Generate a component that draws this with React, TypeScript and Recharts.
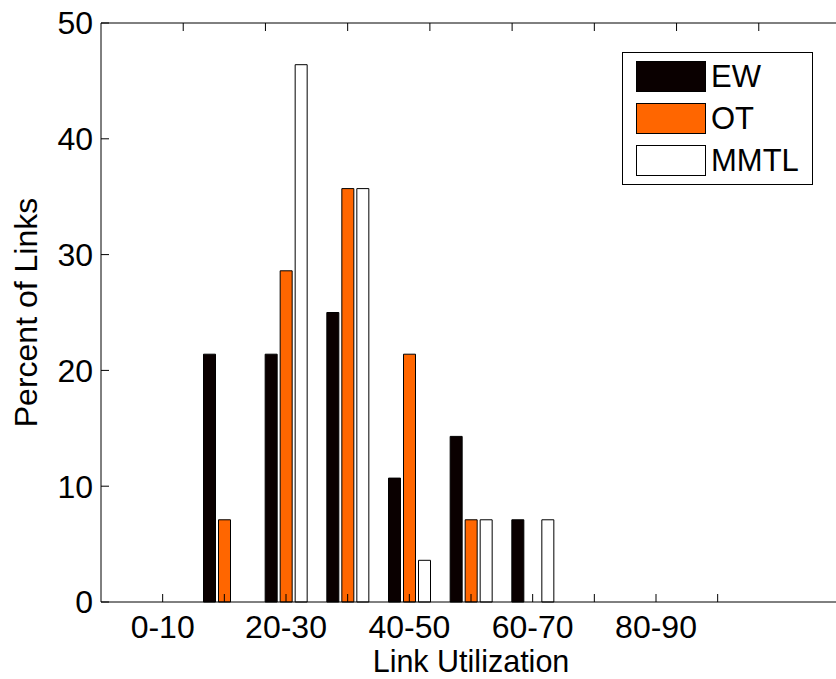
import React from 'react'
import { Bar, BarChart, XAxis, YAxis, Legend, Label } from 'recharts'

// link utilization bins (bar positions 1..10)
const categories = ['0-10', '10-20', '20-30', '30-40', '40-50', '50-60', '60-70', '70-80', '80-90', '90-100']
const ewValues = [0, 21.4, 21.4, 25, 10.7, 14.3, 7.1, 0, 0, 0]
const otValues = [0, 7.1, 28.6, 35.7, 21.4, 7.1, 0, 0, 0, 0]
const mmtlValues = [0, 0, 46.4, 35.7, 3.6, 7.1, 7.1, 0, 0, 0]

// only every other bin is labelled on the axis
const tickLabels = ['0-10', '', '20-30', '', '40-50', '', '60-70', '', '80-90', '']
const xTicks = [1, 2, 3, 4, 5, 6, 7, 8, 9, 10]
const yTicks = [0, 10, 20, 30, 40, 50]

const series = [
    { key: 'EW', fill: '#0a0000' },
    { key: 'OT', fill: '#ff6600' },
    { key: 'MMTL', fill: '#ffffff' },
]

const data = categories.map((c, i) => ({
    pos: i + 1,
    bin: c,
    EW: ewValues[i],
    OT: otValues[i],
    MMTL: mmtlValues[i],
}))

const FONT = '"Liberation Sans", Arial, Helvetica, sans-serif'

function LegendBox () {
    return (
        <div style={{
            border: '1px solid #000',
            background: '#fff',
            width: 191,
            height: 133,
            boxSizing: 'border-box',
            padding: '8px 0 0 13px',
            fontFamily: FONT,
        }}>
            {series.map((s, i) => (
                <div key={s.key} style={{ display: 'flex', alignItems: 'center', height: 31, marginTop: i === 0 ? 0 : 11 }}>
                    <div style={{ width: 70, height: 31, boxSizing: 'border-box', border: '1px solid #000', background: s.fill }} />
                    <span style={{ marginLeft: 5, fontSize: 31, color: '#000', lineHeight: '31px' }}>{s.key}</span>
                </div>
            ))}
        </div>
    )
}

function YLabel (props: any) {
    const vb = props.viewBox
    const cx = vb.x + 37
    const cy = vb.y + vb.height / 2
    return (
        <text x={cx} y={cy} transform={`rotate(-90 ${cx} ${cy})`} textAnchor='middle' fontSize={32} fill='#000'>
            Percent of Links
        </text>
    )
}

export default function App () {
    const tickStyle = { fontSize: 32, fill: '#000' }
    return (
        <div style={{ position: 'absolute', left: 0, top: 0, width: 836, height: 679, overflow: 'hidden', background: '#fff', fontFamily: FONT }}>
            <BarChart
                width={842}
                height={679}
                data={data}
                margin={{ top: 0, right: 0, bottom: 0, left: 0 }}
                barSize={12}
                barGap={3}>
                <XAxis
                    dataKey='pos'
                    type='number'
                    domain={[0, 12]}
                    ticks={xTicks}
                    interval={0}
                    height={77}
                    tickSize={-8}
                    tickMargin={21}
                    tick={tickStyle}
                    tickFormatter={(v: number) => tickLabels[v - 1] ?? ''}
                    axisLine={{ stroke: '#000' }}
                    tickLine={{ stroke: '#000' }}>
                    <Label value='Link Utilization' position='insideBottom' offset={7} fontSize={30.5} fill='#000' />
                </XAxis>
                <XAxis
                    xAxisId='top'
                    orientation='top'
                    type='number'
                    domain={[0, 12]}
                    ticks={xTicks}
                    interval={0}
                    height={23}
                    tickSize={-8}
                    tickFormatter={() => ''}
                    axisLine={{ stroke: '#000' }}
                    tickLine={{ stroke: '#000' }}
                />
                <YAxis
                    domain={[0, 50]}
                    ticks={yTicks}
                    interval={0}
                    width={101}
                    tickSize={-8}
                    tickMargin={16}
                    tick={tickStyle}
                    axisLine={{ stroke: '#000' }}
                    tickLine={{ stroke: '#000' }}>
                    <Label content={YLabel} />
                </YAxis>
                <YAxis
                    yAxisId='right'
                    orientation='right'
                    domain={[0, 50]}
                    ticks={yTicks}
                    interval={0}
                    width={1}
                    tickSize={-8}
                    tickFormatter={() => ''}
                    axisLine={{ stroke: '#000' }}
                    tickLine={{ stroke: '#000' }}
                />
                <Legend
                    layout='vertical'
                    align='center'
                    verticalAlign='middle'
                    content={() => <LegendBox />}
                    wrapperStyle={{ left: 622, top: 52, width: 191, height: 133 }}
                />
                {series.map(s => (
                    <Bar
                        key={s.key}
                        dataKey={s.key}
                        name={s.key}
                        fill={s.fill}
                        stroke='#000'
                        strokeWidth={1}
                        isAnimationActive={false}
                    />
                ))}
            </BarChart>
        </div>
    )
}
